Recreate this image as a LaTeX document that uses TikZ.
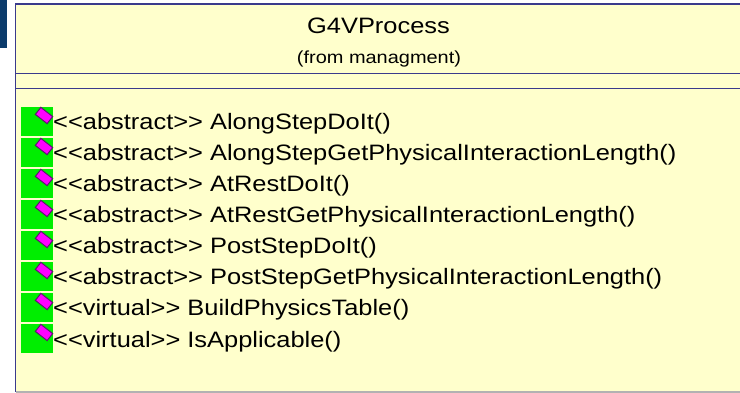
\documentclass[tikz,border=0pt]{standalone}
\usepackage{fontspec}
\setmainfont{Liberation Sans}[FakeStretch=1.14, Ligatures=TeXOff]
\definecolor{umlfill}{HTML}{FFFFCC}
\definecolor{umlline}{HTML}{3A3A8C}
\definecolor{barblue}{HTML}{0B3B6B}
\definecolor{opgreen}{HTML}{00EE00}
\definecolor{opgem}{HTML}{FF00FF}
\definecolor{gemedge}{HTML}{5A1A6A}

\begin{document}
\begin{tikzpicture}[x=1pt, y=-1pt,
    opname/.style={anchor=base west, inner sep=0pt, font=\fontsize{22.3}{22.3}\selectfont},
    opbox/.style={anchor=north west, fill=opgreen, minimum width=32pt, minimum height=29.3pt, inner sep=0pt},
    gem/.style={draw=gemedge, fill=opgem, line width=1pt, minimum width=15pt, minimum height=9pt, inner sep=0pt, rotate=-38}]
            \useasboundingbox (0,0) rectangle (740,393);
            %\draw[lightgray] (0,0) grid (740,393);
            \fill[barblue] (0,0) rectangle (7,48);
            \fill[umlfill] (15.5,4) rectangle (740,392);
            \draw[umlline, line width=1.3pt] (15.5,392) -- (15.5,4) -- (740,4);
            \draw[gray!60, line width=1.3pt] (15.5,392) -- (740,392);
            \draw[umlline] (15.5,73) -- (740,73);
            \draw[umlline] (15.5,88.5) -- (740,88.5);
            \node[anchor=base, inner sep=0pt, font=\fontsize{22.3}{22.3}\selectfont] (title) at (378.5,33.3) {G4VProcess};
            \node[anchor=base, inner sep=0pt, font=\fontsize{17.5}{17.5}\selectfont] (from) at (379,63.5) {(from managment)};
            \node[opbox] (b1) at (21,106.7) {};
            \node[gem] (g1) at (44,115.5) {};
            \node[opname] (m1) at (53,130) {<<abstract>> AlongStepDoIt()};
            \node[opbox] (b2) at (21,137.7) {};
            \node[gem] (g2) at (44,146.5) {};
            \node[opname] (m2) at (53,161) {<<abstract>> AlongStepGetPhysicalInteractionLength()};
            \node[opbox] (b3) at (21,168.7) {};
            \node[gem] (g3) at (44,177.5) {};
            \node[opname] (m3) at (53,192) {<<abstract>> AtRestDoIt()};
            \node[opbox] (b4) at (21,199.7) {};
            \node[gem] (g4) at (44,208.5) {};
            \node[opname] (m4) at (53,223) {<<abstract>> AtRestGetPhysicalInteractionLength()};
            \node[opbox] (b5) at (21,230.7) {};
            \node[gem] (g5) at (44,239.5) {};
            \node[opname] (m5) at (53,254) {<<abstract>> PostStepDoIt()};
            \node[opbox] (b6) at (21,261.7) {};
            \node[gem] (g6) at (44,270.5) {};
            \node[opname] (m6) at (53,285) {<<abstract>> PostStepGetPhysicalInteractionLength()};
            \node[opbox] (b7) at (21,292.7) {};
            \node[gem] (g7) at (44,301.5) {};
            \node[opname] (m7) at (53,316) {<<virtual>> BuildPhysicsTable()};
            \node[opbox] (b8) at (21,323.7) {};
            \node[gem] (g8) at (44,332.5) {};
            \node[opname] (m8) at (53,347) {<<virtual>> IsApplicable()};
        \end{tikzpicture}
\end{document}
